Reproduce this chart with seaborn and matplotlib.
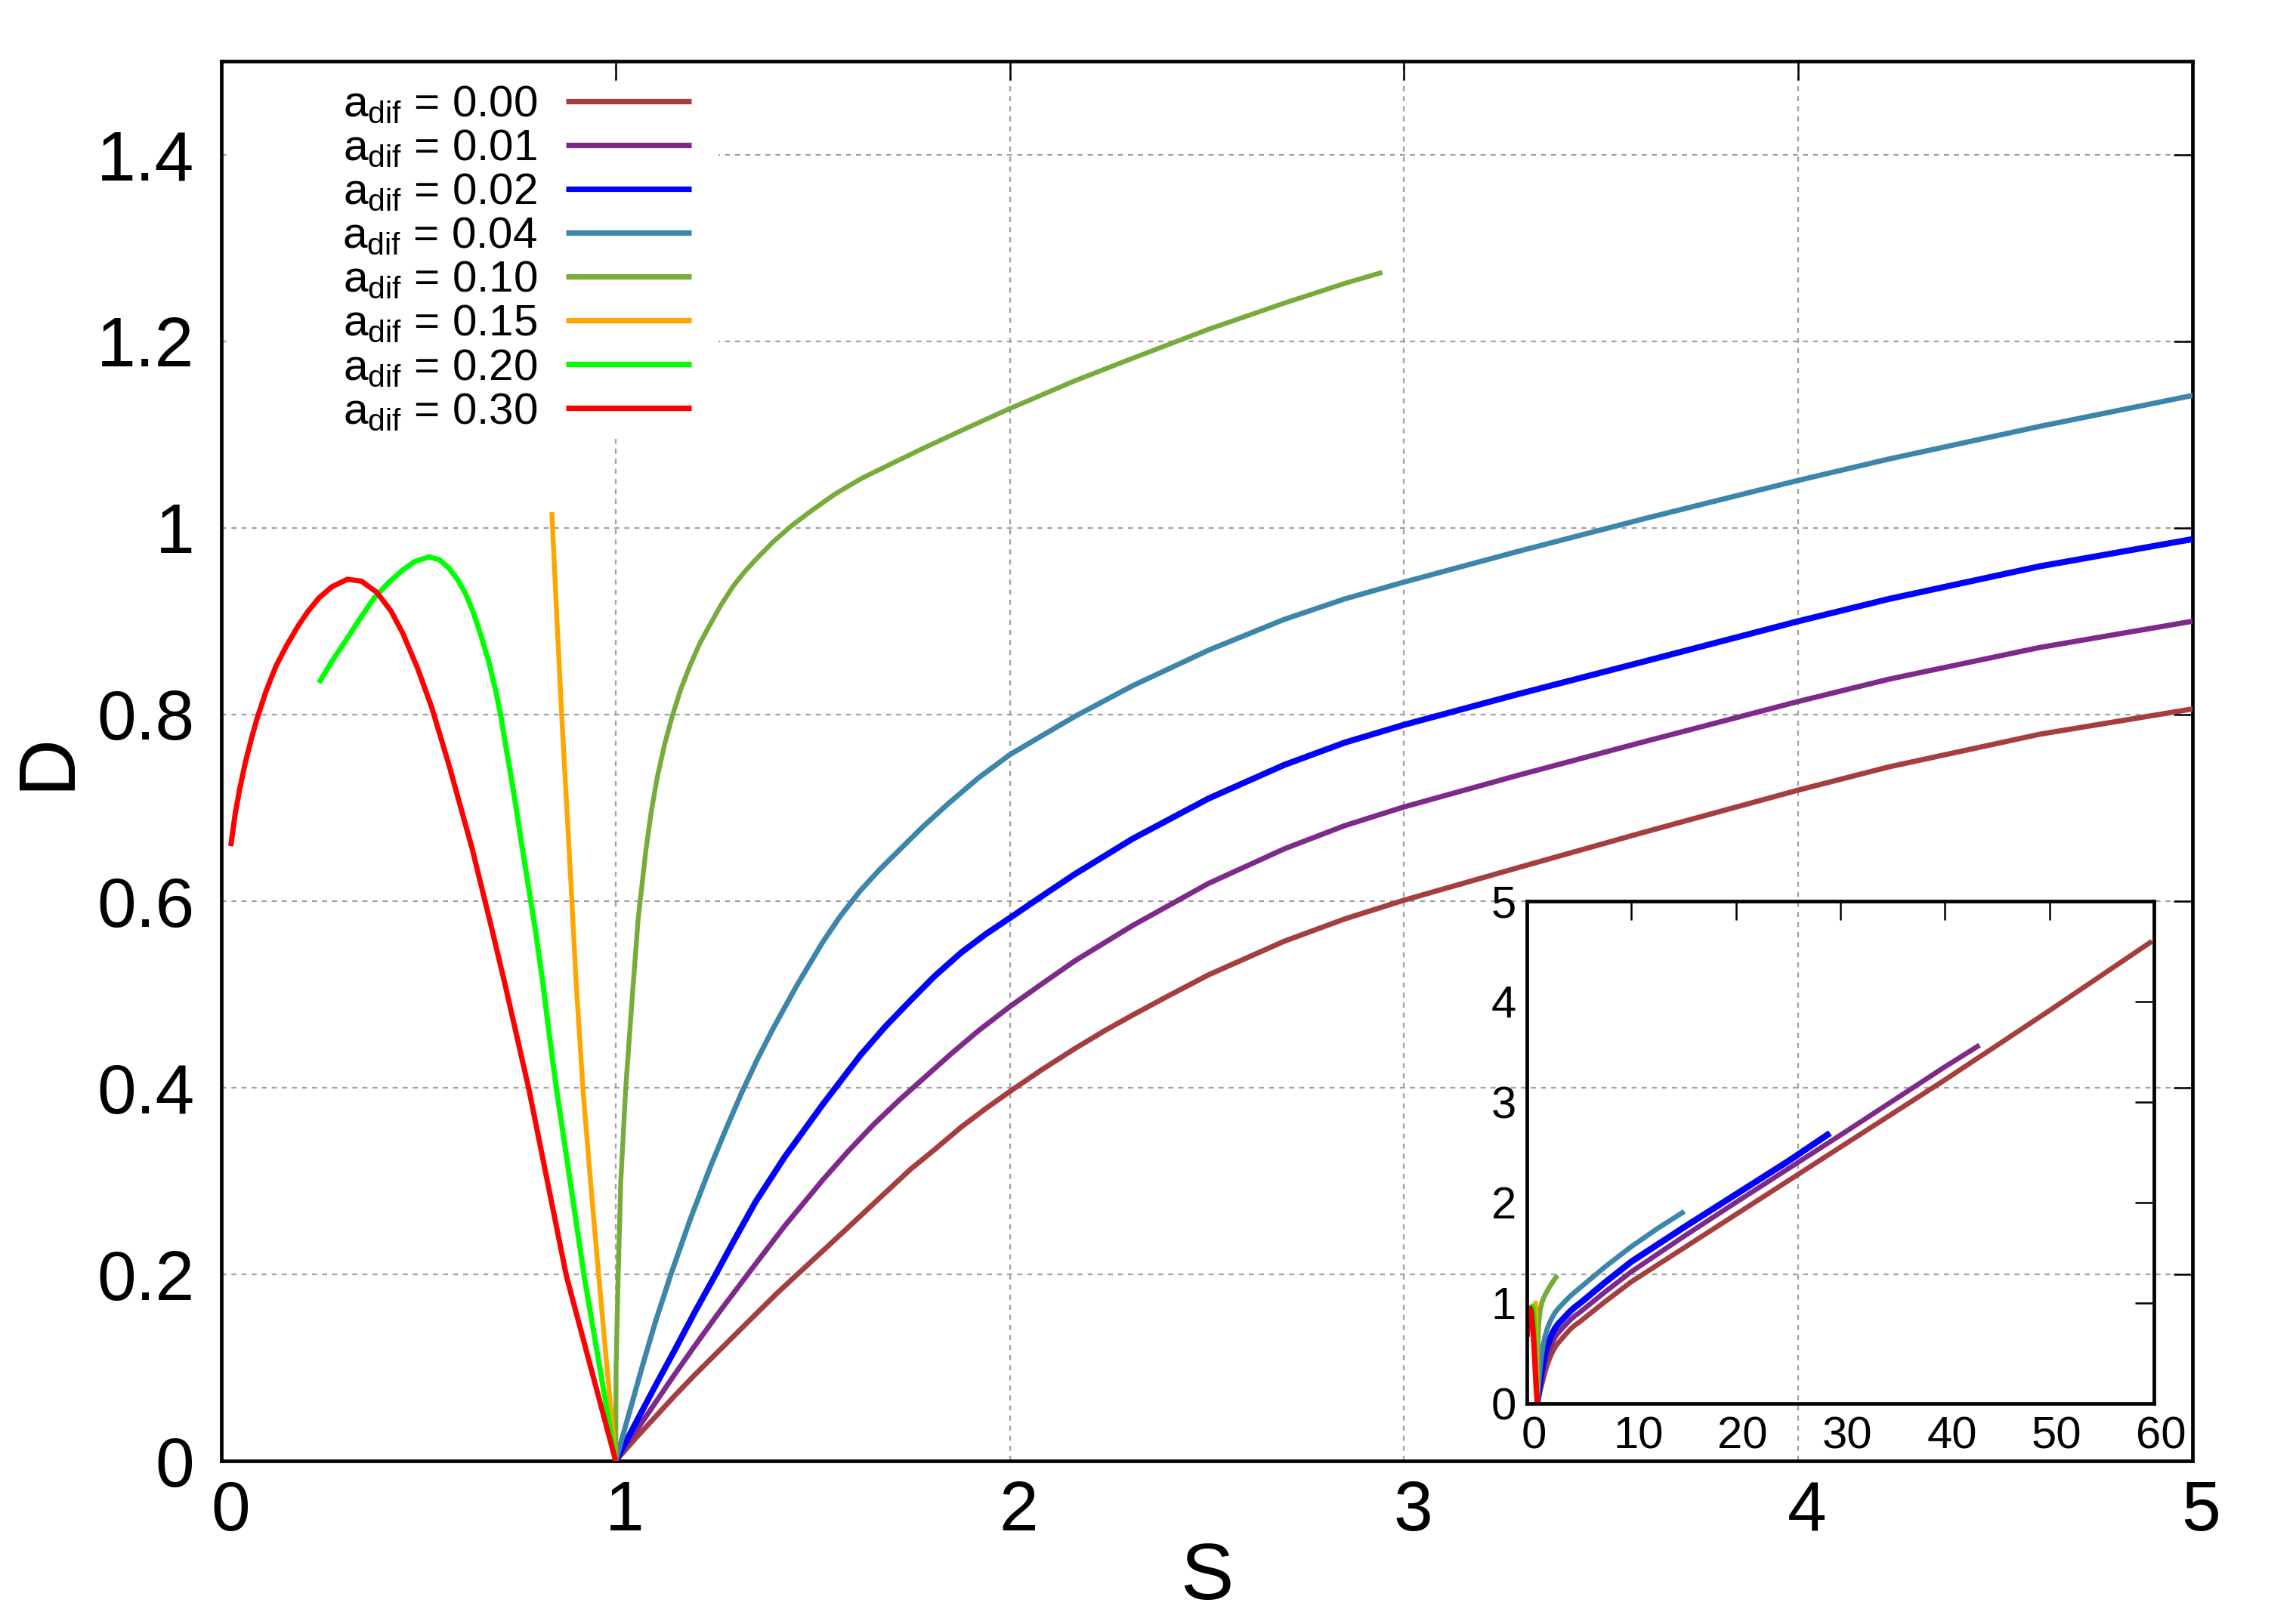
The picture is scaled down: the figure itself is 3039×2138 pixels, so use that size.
import numpy as np
import pandas as pd
import matplotlib
matplotlib.use("Agg")
import matplotlib.pyplot as plt
import matplotlib.transforms as mtransforms
from matplotlib.patches import Rectangle
from matplotlib.lines import Line2D
from matplotlib.ticker import FuncFormatter
import seaborn as sns

# ---------------- data ----------------
labels = ["0.00", "0.01", "0.02", "0.04", "0.10", "0.15", "0.20", "0.30"]
colors = ["#A53F3F", "#7E2A8A", "#0000FF", "#3D86AB", "#77AC3C", "#FFA500", "#00FF00", "#FF0000"]

S_000 = [1.0, 1.05, 1.1, 1.15, 1.2, 1.25, 1.3, 1.35, 1.41, 1.461, 1.52, 1.589, 1.66, 1.749, 1.81,
         1.877, 1.94, 2.0, 2.08, 2.165, 2.24, 2.312, 2.4, 2.504, 2.6, 2.696, 2.85, 3.0,
         3.29, 3.61, 4.0, 4.231, 4.614, 5.0, 7.5, 10, 15, 20, 30, 40, 50, 59.8]
D_000 = [0.0, 0.024, 0.047, 0.070, 0.092, 0.113, 0.134, 0.155, 0.180, 0.200, 0.223, 0.250, 0.278, 0.313, 0.334,
         0.358, 0.378, 0.396, 0.419, 0.442, 0.461, 0.478, 0.498, 0.521, 0.539, 0.557, 0.581, 0.601,
         0.636, 0.674, 0.719, 0.744, 0.779, 0.806, 1.013, 1.21, 1.545, 1.88, 2.55, 3.22, 3.91, 4.60]

S_001 = [1.0, 1.05, 1.10, 1.15, 1.2, 1.26, 1.3546, 1.429, 1.525, 1.59, 1.653, 1.72, 1.781, 1.85, 1.92,
         2.0, 2.08, 2.165, 2.312, 2.504, 2.696, 2.85, 3.0, 3.29, 3.61, 4.0, 4.231, 4.614, 5.0,
         7.5, 10, 15, 20, 30, 40, 43.3]
D_001 = [0.0, 0.031, 0.062, 0.093, 0.123, 0.158, 0.211, 0.252, 0.301, 0.332, 0.360, 0.387, 0.410, 0.436, 0.461,
         0.487, 0.511, 0.536, 0.574, 0.619, 0.656, 0.681, 0.701, 0.735, 0.771, 0.814, 0.838, 0.872, 0.900,
         1.11, 1.31, 1.66, 2.0, 2.67, 3.35, 3.565]

S_002 = [1.0, 1.05, 1.10, 1.15, 1.2, 1.2524, 1.30, 1.3546, 1.429, 1.525, 1.621, 1.685, 1.749, 1.81,
         1.877, 1.94, 2.0, 2.08, 2.165, 2.312, 2.504, 2.696, 2.85, 3.0, 3.29, 3.61, 4.0, 4.231, 4.614, 5.0,
         7.5, 10, 15, 20, 25, 29.0]
D_002 = [0.0, 0.040, 0.080, 0.119, 0.159, 0.199, 0.236, 0.2775, 0.326, 0.382, 0.435, 0.466, 0.494, 0.520,
         0.545, 0.565, 0.582, 0.605, 0.629, 0.667, 0.710, 0.746, 0.770, 0.789, 0.822, 0.857, 0.900, 0.924, 0.959, 0.988,
         1.205, 1.41, 1.75, 2.08, 2.41, 2.69]

S_004 = [1.0, 1.03, 1.07, 1.10, 1.14, 1.19, 1.24, 1.28, 1.32, 1.36, 1.40, 1.46, 1.525, 1.57, 1.62, 1.67,
         1.72, 1.78, 1.845, 1.92, 2.0, 2.08, 2.165, 2.312, 2.504, 2.696, 2.85, 3.0, 3.29, 3.61, 4.0, 4.231,
         4.614, 5.0, 7.5, 10, 12.5, 15.06]
D_004 = [0.0, 0.045, 0.105, 0.148, 0.200, 0.260, 0.315, 0.356, 0.395, 0.431, 0.464, 0.510, 0.556, 0.584, 0.611, 0.634,
         0.655, 0.680, 0.705, 0.732, 0.757, 0.777, 0.798, 0.831, 0.869, 0.902, 0.924, 0.942, 0.975, 1.010, 1.051, 1.074,
         1.109, 1.142, 1.36, 1.56, 1.74, 1.91]

S_010 = [1.0, 1.001, 1.0063, 1.013, 1.0255, 1.042, 1.057, 1.077, 1.09, 1.105, 1.124, 1.144, 1.165, 1.188,
         1.213, 1.240, 1.268, 1.297, 1.325, 1.355, 1.399, 1.445, 1.495, 1.555, 1.623, 1.70, 1.783, 1.89,
         2.0, 2.166, 2.312, 2.504, 2.696, 2.856, 2.945]
D_010 = [0.0, 0.1, 0.2, 0.3, 0.4, 0.497, 0.581, 0.656, 0.695, 0.732, 0.768, 0.799, 0.827, 0.852,
         0.876, 0.897, 0.918, 0.937, 0.952, 0.966, 0.985, 1.002, 1.018, 1.036, 1.053, 1.069, 1.086, 1.107,
         1.128, 1.158, 1.182, 1.213, 1.241, 1.263, 1.274]

S_015 = [0.838, 0.850, 0.863, 0.876, 0.889, 0.8996, 0.917, 0.937, 0.957, 0.978, 1.0]
D_015 = [1.017, 0.91, 0.799, 0.70, 0.599, 0.513, 0.398, 0.295, 0.198, 0.10, 0.0]

S_020 = [0.247, 0.28, 0.313, 0.35, 0.387, 0.425, 0.460, 0.49, 0.526, 0.553, 0.577, 0.60, 0.621, 0.64,
         0.658, 0.677, 0.695, 0.708, 0.720, 0.733, 0.746, 0.760, 0.775, 0.786, 0.797, 0.815, 0.832,
         0.850, 0.885, 0.920, 0.96, 1.0]
D_020 = [0.834, 0.857, 0.878, 0.902, 0.925, 0.942, 0.955, 0.964, 0.969, 0.966, 0.957, 0.944, 0.928, 0.908,
         0.885, 0.858, 0.827, 0.800, 0.769, 0.737, 0.704, 0.665, 0.625, 0.596, 0.567, 0.513, 0.455,
         0.398, 0.298, 0.198, 0.099, 0.0]

S_030 = [0.0234, 0.034, 0.0454, 0.060, 0.075, 0.0895, 0.112, 0.137, 0.165, 0.1957, 0.22, 0.247, 0.28,
         0.319, 0.355, 0.394, 0.43, 0.46, 0.497, 0.533, 0.577, 0.636, 0.687, 0.718, 0.780, 0.875, 1.0]
D_030 = [0.659, 0.692, 0.719, 0.748, 0.773, 0.795, 0.824, 0.851, 0.874, 0.896, 0.911, 0.925, 0.937,
         0.945, 0.943, 0.931, 0.911, 0.887, 0.850, 0.808, 0.746, 0.656, 0.568, 0.513, 0.398, 0.198, 0.0]

x_ticks = [0, 1, 2, 3, 4, 5]
y_ticks = [0, 0.2, 0.4, 0.6, 0.8, 1.0, 1.2, 1.4]
inset_x_ticks = [0, 10, 20, 30, 40, 50, 60]
inset_y_ticks = [0, 1, 2, 3, 4, 5]

series_S = [S_000, S_001, S_002, S_004, S_010, S_015, S_020, S_030]
series_D = [D_000, D_001, D_002, D_004, D_010, D_015, D_020, D_030]
df = pd.concat([pd.DataFrame({"S": s, "D": d, "a_dif": lab})
                for s, d, lab in zip(series_S, series_D, labels)], ignore_index=True)

main_lw = [2.5, 2.5, 2.9, 2.5, 2.3, 2.3, 2.5, 2.5]
inset_lw = [2.4, 2.4, 3.0, 2.4, 2.4, 2.4, 2.4, 2.6]

# ---------------- style ----------------
sns.set_theme(style="white")
plt.rcParams["font.family"] = ["Liberation Sans", "DejaVu Sans"]
plt.rcParams["mathtext.fontset"] = "custom"
plt.rcParams["mathtext.rm"] = "Liberation Sans"
plt.rcParams["mathtext.it"] = "Liberation Sans:italic"
plt.rcParams["mathtext.bf"] = "Liberation Sans:bold"
plt.rcParams["xtick.color"] = "black"
plt.rcParams["ytick.color"] = "black"
plt.rcParams["axes.edgecolor"] = "black"
plt.rcParams["text.color"] = "black"
plt.rcParams["axes.labelcolor"] = "black"

DPI = 200
fig = plt.figure(figsize=(3039 / DPI, 2138 / DPI), dpi=DPI)
fig.patch.set_facecolor("white")

ax = fig.add_axes([0.0965, 0.0954, 0.8583, 0.8665])
ax.set_axisbelow(True)

for lab, c, lw in zip(labels, colors, main_lw):
    sub = df[df["a_dif"] == lab]
    sns.lineplot(data=sub, x="S", y="D", ax=ax, color=c, lw=lw, sort=False,
                 estimator=None, legend=False, solid_capstyle="butt",
                 solid_joinstyle="round", zorder=3)

ax.set_xlim(0, 5)
ax.set_ylim(0, 1.5)
ax.set_xticks(x_ticks)
ax.set_yticks(y_ticks)
ax.yaxis.set_major_formatter(FuncFormatter(lambda v, p: f"{round(v, 2):g}"))
ax.grid(True, color="#a0a0a0", lw=0.8, ls=(0, (3, 3)))
ax.tick_params(axis="both", which="major", direction="in", length=9, width=0.9,
               top=True, right=True, labelsize=33.5, colors="black")
ax.tick_params(axis="x", pad=9)
ax.tick_params(axis="y", pad=13)
for s in ax.spines.values():
    s.set_linewidth(1.7)
    s.set_color("black")
    s.set_visible(True)

ax.set_xlabel("S", fontsize=38)
ax.set_ylabel("D", fontsize=38)
ax.xaxis.set_label_coords(0.5, -0.057)
ax.yaxis.set_label_coords(-0.069, 0.5)

# white key box hiding the grid behind the legend
ax.add_patch(Rectangle((0.004, 0.7304), 0.248, 0.2553, transform=ax.transAxes,
                       facecolor="white", edgecolor="none", zorder=1))

handles = [Line2D([], [], color=c, lw=2.6, solid_capstyle="butt") for c in colors]
leg_labels = [r"a$_{\mathregular{dif}}$ = " + lab for lab in labels]
leg = ax.legend(handles, leg_labels, loc="upper left", bbox_to_anchor=(0.0612, 0.9835),
                bbox_transform=ax.transAxes, frameon=False, markerfirst=False, fontsize=21,
                handlelength=2.85, handletextpad=0.65, labelspacing=0.07, borderpad=0.0,
                borderaxespad=0.0)
leg.set_zorder(5)

# ---------------- inset ----------------
axins = fig.add_axes([0.665, 0.1311, 0.2732, 0.311])
axins.set_facecolor("none")
axins.patch.set_alpha(0)
for lab, c, lw in zip(labels, colors, inset_lw):
    sub = df[df["a_dif"] == lab]
    sns.lineplot(data=sub, x="S", y="D", ax=axins, color=c, lw=lw, sort=False,
                 estimator=None, legend=False, solid_capstyle="butt", solid_joinstyle="round")
axins.set_xlim(0, 60)
axins.set_ylim(0, 5)
axins.set_xticks(inset_x_ticks)
axins.set_yticks(inset_y_ticks)
axins.grid(False)
axins.set_xlabel("")
axins.set_ylabel("")
axins.tick_params(axis="both", which="major", direction="in", length=9, width=0.9,
                  top=True, right=True, labelsize=21.5, colors="black")
axins.tick_params(axis="x", pad=6)
axins.tick_params(axis="y", pad=5)
for s in axins.spines.values():
    s.set_linewidth(1.7)
    s.set_color("black")
    s.set_visible(True)

# gnuplot-like small right shift of x tick labels
off_main = mtransforms.ScaledTranslation(12 / DPI, 0, fig.dpi_scale_trans)
for t in ax.xaxis.get_major_ticks():
    t.label1.set_transform(t.label1.get_transform() + off_main)
off_in = mtransforms.ScaledTranslation(9 / DPI, 0, fig.dpi_scale_trans)
for t in axins.xaxis.get_major_ticks():
    t.label1.set_transform(t.label1.get_transform() + off_in)

fig.savefig("out.png", dpi=DPI, facecolor="white")
